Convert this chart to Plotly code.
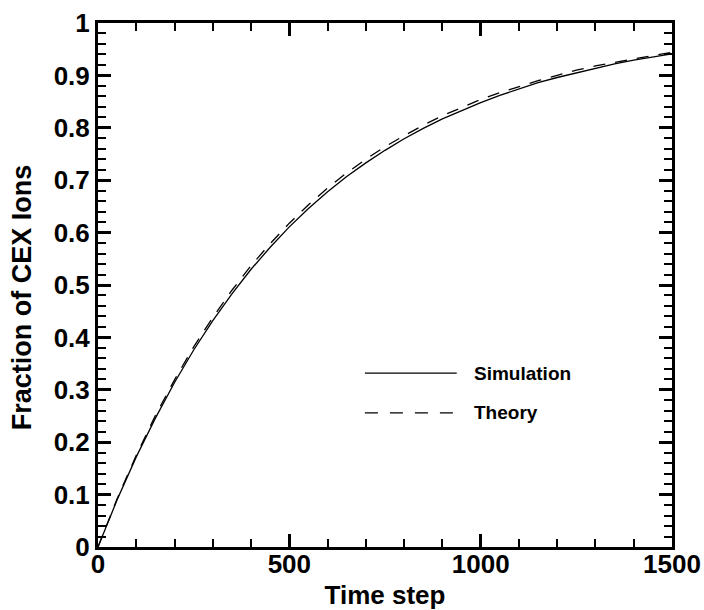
import plotly.graph_objects as go

time_step = [0, 50, 100, 150, 200, 250, 300, 350, 400, 450, 500, 550, 600, 650, 700, 750,
             800, 850, 900, 950, 1000, 1050, 1100, 1150, 1200, 1250, 1300, 1350, 1400, 1450, 1500]
simulation = [0.0, 0.090, 0.172, 0.246, 0.314, 0.376, 0.432, 0.483, 0.530, 0.572, 0.611,
              0.646, 0.678, 0.707, 0.733, 0.757, 0.779, 0.799, 0.817, 0.833, 0.848,
              0.862, 0.874, 0.886, 0.896, 0.905, 0.914, 0.922, 0.929, 0.935, 0.941]
theory = [0.0, 0.092, 0.175, 0.251, 0.319, 0.382, 0.438, 0.490, 0.537, 0.579, 0.618,
          0.653, 0.685, 0.714, 0.740, 0.764, 0.785, 0.805, 0.823, 0.839, 0.854,
          0.867, 0.879, 0.890, 0.900, 0.910, 0.918, 0.925, 0.932, 0.938, 0.944]

FONT = "Liberation Sans, Arial, sans-serif"

fig = go.Figure()
fig.add_trace(go.Scatter(x=time_step, y=simulation, mode="lines", name="Simulation",
                         line=dict(color="black", width=1.3), showlegend=False))
fig.add_trace(go.Scatter(x=time_step, y=theory, mode="lines", name="Theory",
                         line=dict(color="black", width=1.3, dash="12px,10px"), showlegend=False))

axis_common = dict(
    showgrid=False, zeroline=False, showline=True, linecolor="black", linewidth=3,
    mirror="allticks", ticks="inside", ticklen=13, tickwidth=3, tickcolor="black",
    tickfont=dict(family=FONT, size=26, color="black", weight="bold"),
    automargin=False,
)

fig.update_xaxes(range=[0, 1500], tickmode="linear", dtick=500, tick0=0, ticklabelstandoff=-8,
                 minor=dict(tickmode="linear", tick0=0, dtick=100, ticks="inside", ticklen=8,
                            tickwidth=2, tickcolor="black"),
                 title=dict(text="<b>Time step</b>", font=dict(family=FONT, size=26, color="black"), standoff=8),
                 **axis_common)
fig.update_yaxes(range=[0, 1], tickmode="linear", dtick=0.1, tick0=0,
                 minor=dict(tickmode="linear", tick0=0, dtick=0.02, ticks="inside", ticklen=8,
                            tickwidth=2, tickcolor="black"),
                 **axis_common)

# y-axis title
fig.add_annotation(xref="paper", yref="paper", x=-0.132, y=0.477, text="<b>Fraction of CEX Ions</b>",
                   textangle=-90, showarrow=False, xanchor="center", yanchor="middle",
                   font=dict(family=FONT, size=27, color="black"))

# manual legend
leg_x0, leg_x1, txt_x = 0.465, 0.625, 0.652
fig.add_shape(type="line", xref="paper", yref="paper", x0=leg_x0, x1=leg_x1, y0=0.332, y1=0.332,
              line=dict(color="black", width=1.3))
fig.add_shape(type="line", xref="paper", yref="paper", x0=leg_x0, x1=leg_x1, y0=0.256, y1=0.256,
              line=dict(color="black", width=1.3, dash="13px,12px"))
fig.add_annotation(xref="paper", yref="paper", x=txt_x, y=0.332, text="<b>Simulation</b>",
                   showarrow=False, xanchor="left", yanchor="middle",
                   font=dict(family=FONT, size=19, color="black"))
fig.add_annotation(xref="paper", yref="paper", x=txt_x, y=0.256, text="<b>Theory</b>",
                   showarrow=False, xanchor="left", yanchor="middle",
                   font=dict(family=FONT, size=19, color="black"))

fig.update_layout(width=704, height=610, margin=dict(l=98, r=32, t=23, b=63, autoexpand=False),
                  paper_bgcolor="white", plot_bgcolor="white")

fig.write_html("out.html")
